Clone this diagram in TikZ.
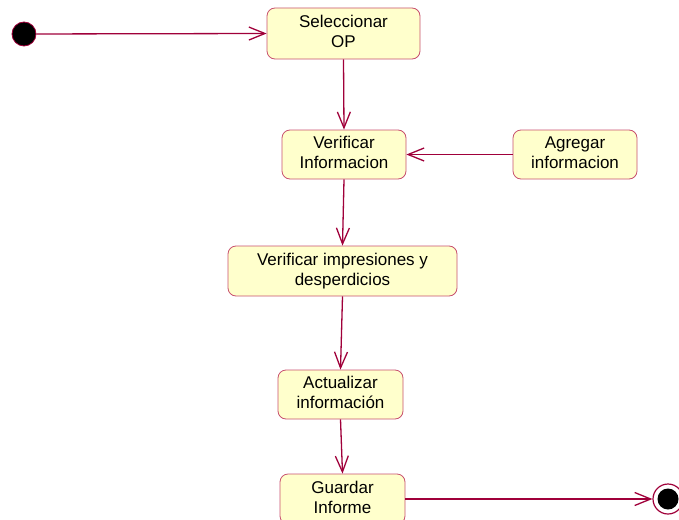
\documentclass[tikz,border=0pt]{standalone}
\usepackage{fontspec}
\setmainfont{Liberation Sans}
\usetikzlibrary{arrows.meta}
\definecolor{flow}{HTML}{A0003A}
\definecolor{boxedge}{HTML}{C8506E}
\definecolor{boxfill}{HTML}{FFFFCC}
% two centred lines, set a little above the box centre
\newcommand{\twolines}[2]{\raisebox{3pt}{\begin{tabular}{@{}c@{}}#1\\#2\end{tabular}}}
\tikzset{
  act/.style={draw=boxedge, fill=boxfill, line width=0.8pt, rounded corners=8pt,
    inner sep=0pt, font=\fontsize{17}{20}\selectfont},
  flowline/.style={draw=flow, line width=1.3pt,
    -{Straight Barb[length=16pt,width=13pt,line width=1.3pt]}},
}
\begin{document}
\begin{tikzpicture}[x=1pt,y=-1pt]
\useasboundingbox (0,0) rectangle (679,519);
% start and end states
\node[circle, fill=black, draw=flow, line width=0.8pt, minimum size=24pt, inner sep=0pt] (start) at (24,34) {};
\node[circle, fill=white, draw=flow, line width=1.2pt, minimum size=30pt, inner sep=0pt] (end) at (668,499) {};
\node[circle, fill=black, minimum size=21pt, inner sep=0pt] (endcore) at (668,499) {};
% activities
\node[act, minimum width=153pt, minimum height=51pt] (sel) at (343.5,33.5) {\twolines{Seleccionar}{OP}};
\node[act, minimum width=124pt, minimum height=49pt] (ver) at (344,154.5) {\twolines{Verificar}{Informacion}};
\node[act, minimum width=124pt, minimum height=49pt] (agr) at (575,154.5) {\twolines{Agregar}{informacion}};
\node[act, minimum width=229pt, minimum height=50pt] (imp) at (342.5,271) {\twolines{Verificar impresiones y}{desperdicios}};
\node[act, minimum width=125pt, minimum height=49pt] (act) at (340.5,394.5) {\twolines{Actualizar}{información}};
\node[act, minimum width=125pt, minimum height=50pt] (gua) at (342.5,499) {\twolines{Guardar}{Informe}};
% transitions
\draw[flowline] (start) -- (sel.west);
\draw[flowline] (sel.south) -- (ver.north);
\draw[flowline] (agr.west) -- (ver.east);
\draw[flowline] (ver.south) -- (imp.north);
\draw[flowline] (imp.south) -- (act.north);
\draw[flowline] (act.south) -- (gua.north);
\draw[flowline] (gua.east) -- (end.west);
\end{tikzpicture}
\end{document}
